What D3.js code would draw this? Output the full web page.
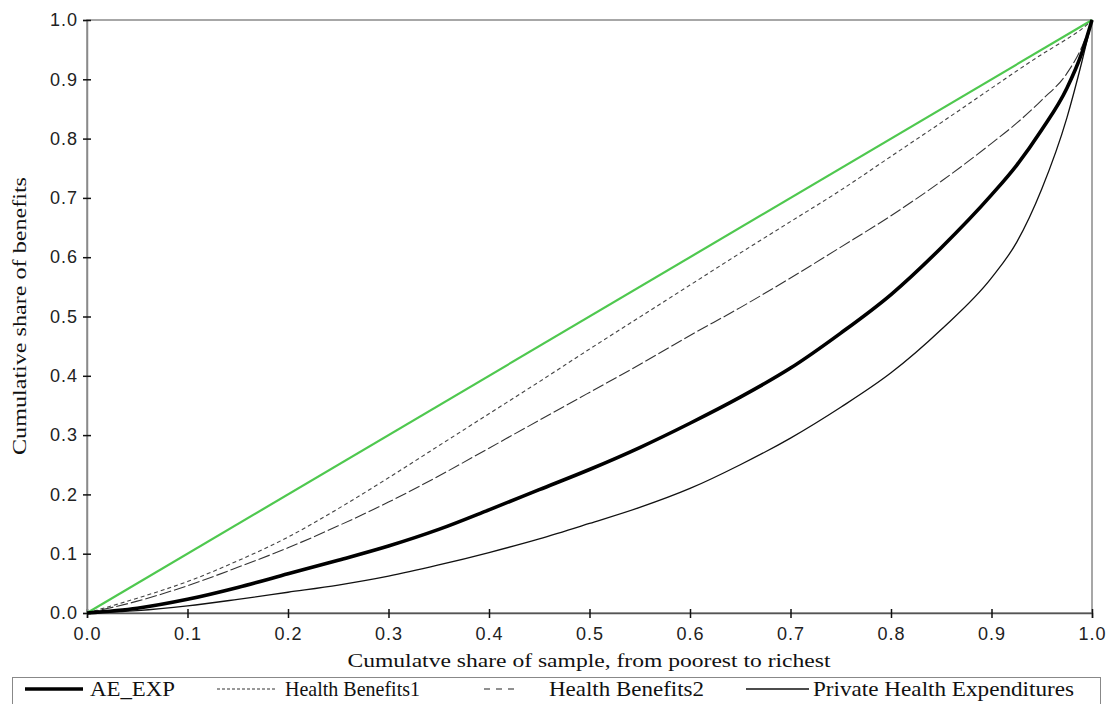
<!DOCTYPE html>
<html>
<head>
<meta charset="utf-8">
<script src="https://cdn.jsdelivr.net/npm/d3@7"></script>
<style>
  html, body { margin: 0; padding: 0; background: #fff; }
  svg { display: block; }
</style>
</head>
<body>
<svg id="chart" width="1106" height="704"></svg>
<script>
// Concentration curves: cumulative share of benefits against cumulative share of sample
const sampleShare = [0, 0.05, 0.1, 0.15, 0.2, 0.25, 0.3, 0.35, 0.4, 0.45, 0.5, 0.55, 0.6,
  0.65, 0.7, 0.75, 0.8, 0.85, 0.9, 0.925, 0.95, 0.975, 0.99, 1];

const aeExp = [0, 0.008, 0.023, 0.043, 0.066, 0.089, 0.113, 0.141, 0.174, 0.208, 0.242, 0.279, 0.32,
  0.364, 0.413, 0.472, 0.537, 0.616, 0.705, 0.755, 0.815, 0.885, 0.945, 1];

const healthBenefits1 = [0, 0.025, 0.053, 0.088, 0.128, 0.176, 0.228, 0.282, 0.336, 0.39, 0.445, 0.499, 0.553,
  0.607, 0.66, 0.713, 0.77, 0.827, 0.885, 0.914, 0.942, 0.968, 0.985, 1];

const healthBenefits2 = [0, 0.02, 0.046, 0.077, 0.11, 0.147, 0.187, 0.231, 0.278, 0.325, 0.372, 0.419, 0.468,
  0.515, 0.565, 0.617, 0.67, 0.728, 0.792, 0.826, 0.865, 0.91, 0.955, 1];

const privateHealthExp = [0, 0.004, 0.012, 0.023, 0.035, 0.047, 0.062, 0.081, 0.102, 0.125, 0.151, 0.178, 0.21,
  0.25, 0.295, 0.347, 0.405, 0.478, 0.565, 0.625, 0.715, 0.835, 0.93, 1];

// 45-degree line of perfect equality
const equalityX = [0, 1];
const equalityY = [0, 1];

const xTicks = [0, 0.1, 0.2, 0.3, 0.4, 0.5, 0.6, 0.7, 0.8, 0.9, 1.0];
const yTicks = [0, 0.1, 0.2, 0.3, 0.4, 0.5, 0.6, 0.7, 0.8, 0.9, 1.0];

const legendLabels = ["AE_EXP", "Health Benefits1", "Health Benefits2", "Private Health Expenditures"];

const svg = d3.select("#chart");
const x = d3.scaleLinear().domain([0, 1]).range([87, 1092]);
const y = d3.scaleLinear().domain([0, 1]).range([613, 20]);

const sans = "'Liberation Sans', Arial, sans-serif";
const serif = "'Liberation Serif', 'Times New Roman', serif";

// plot frame
svg.append("rect")
  .attr("x", x(0)).attr("y", y(1))
  .attr("width", x(1) - x(0)).attr("height", y(0) - y(1))
  .attr("fill", "none").attr("stroke", "#8a8a8a").attr("stroke-width", 1.5);

// axes with ticks crossing the axis line
const fmt = d3.format(".1f");
const xAxis = svg.append("g")
  .attr("transform", `translate(0,${y(0)})`)
  .call(d3.axisBottom(x).tickValues(xTicks).tickFormat(fmt).tickSize(5).tickPadding(9));
xAxis.select(".domain").attr("stroke", "#555").attr("stroke-width", 1.5);
xAxis.selectAll(".tick line").attr("y1", -4).attr("y2", 5).attr("stroke", "#111").attr("stroke-width", 1.5);
xAxis.selectAll(".tick text")
  .attr("font-family", sans).attr("font-size", 18).attr("fill", "#222")
  .attr("letter-spacing", 1);

const yAxis = svg.append("g")
  .attr("transform", `translate(${x(0)},0)`)
  .call(d3.axisLeft(y).tickValues(yTicks).tickFormat(fmt).tickSize(4).tickPadding(5));
yAxis.select(".domain").attr("stroke", "#8a8a8a").attr("stroke-width", 1.5);
yAxis.selectAll(".tick line").attr("x1", -4).attr("x2", 4).attr("stroke", "#111").attr("stroke-width", 1.5);
yAxis.selectAll(".tick text")
  .attr("font-family", sans).attr("font-size", 18).attr("fill", "#222")
  .attr("letter-spacing", 1);

// axis titles
svg.append("text")
  .attr("x", 589).attr("y", 667)
  .attr("text-anchor", "middle")
  .attr("font-family", serif).attr("font-size", 18).attr("fill", "#111")
  .attr("textLength", 483).attr("lengthAdjust", "spacingAndGlyphs")
  .text("Cumulatve share of sample, from poorest to richest");

svg.append("text")
  .attr("transform", "translate(26,316) rotate(-90)")
  .attr("text-anchor", "middle")
  .attr("font-family", serif).attr("font-size", 18).attr("fill", "#111")
  .attr("textLength", 278).attr("lengthAdjust", "spacingAndGlyphs")
  .text("Cumulative share of benefits");

// curves
const plot = svg.append("g");
const line = d3.line()
  .x(d => x(d[0]))
  .y(d => y(d[1]))
  .curve(d3.curveMonotoneX);

const pairs = ys => sampleShare.map((s, i) => [s, ys[i]]);

plot.append("path")
  .datum(equalityX.map((v, i) => [v, equalityY[i]]))
  .attr("d", line)
  .attr("fill", "none").attr("stroke", "#4fc84f").attr("stroke-width", 2.2);

plot.append("path")
  .datum(pairs(healthBenefits1))
  .attr("d", line)
  .attr("fill", "none").attr("stroke", "#444").attr("stroke-width", 1.1)
  .attr("stroke-dasharray", "4,3");

plot.append("path")
  .datum(pairs(healthBenefits2))
  .attr("d", line)
  .attr("fill", "none").attr("stroke", "#333").attr("stroke-width", 1.1)
  .attr("stroke-dasharray", "12,3");

plot.append("path")
  .datum(pairs(privateHealthExp))
  .attr("d", line)
  .attr("fill", "none").attr("stroke", "#111").attr("stroke-width", 1.3);

plot.append("path")
  .datum(pairs(aeExp))
  .attr("d", line)
  .attr("fill", "none").attr("stroke", "#000").attr("stroke-width", 3.6);

// legend
const legend = svg.append("g");
legend.append("rect")
  .attr("x", 12.5).attr("y", 677.5).attr("width", 1088).attr("height", 30)
  .attr("fill", "#fff").attr("stroke", "#888").attr("stroke-width", 1);

const legendItems = [
  { label: legendLabels[0], x1: 25, x2: 83, tx: 90, tw: 85, width: 3.6, dash: null, color: "#000" },
  { label: legendLabels[1], x1: 217, x2: 276, tx: 285, tw: 135, width: 1.1, dash: "3,2", color: "#333" },
  { label: legendLabels[2], x1: 484, x2: 515, tx: 549, tw: 155, width: 1.2, dash: "6,6", color: "#222" },
  { label: legendLabels[3], x1: 746, x2: 809, tx: 813, tw: 261, width: 1.3, dash: null, color: "#111" }
];

const item = legend.selectAll("g.item").data(legendItems).join("g").attr("class", "item");
item.append("line")
  .attr("x1", d => d.x1).attr("x2", d => d.x2)
  .attr("y1", 689).attr("y2", 689)
  .attr("stroke", d => d.color).attr("stroke-width", d => d.width)
  .attr("stroke-dasharray", d => d.dash);
item.append("text")
  .attr("x", d => d.tx).attr("y", 696)
  .attr("font-family", serif).attr("font-size", 21).attr("fill", "#111")
  .attr("textLength", d => d.tw).attr("lengthAdjust", "spacingAndGlyphs")
  .text(d => d.label);
</script>
</body>
</html>
